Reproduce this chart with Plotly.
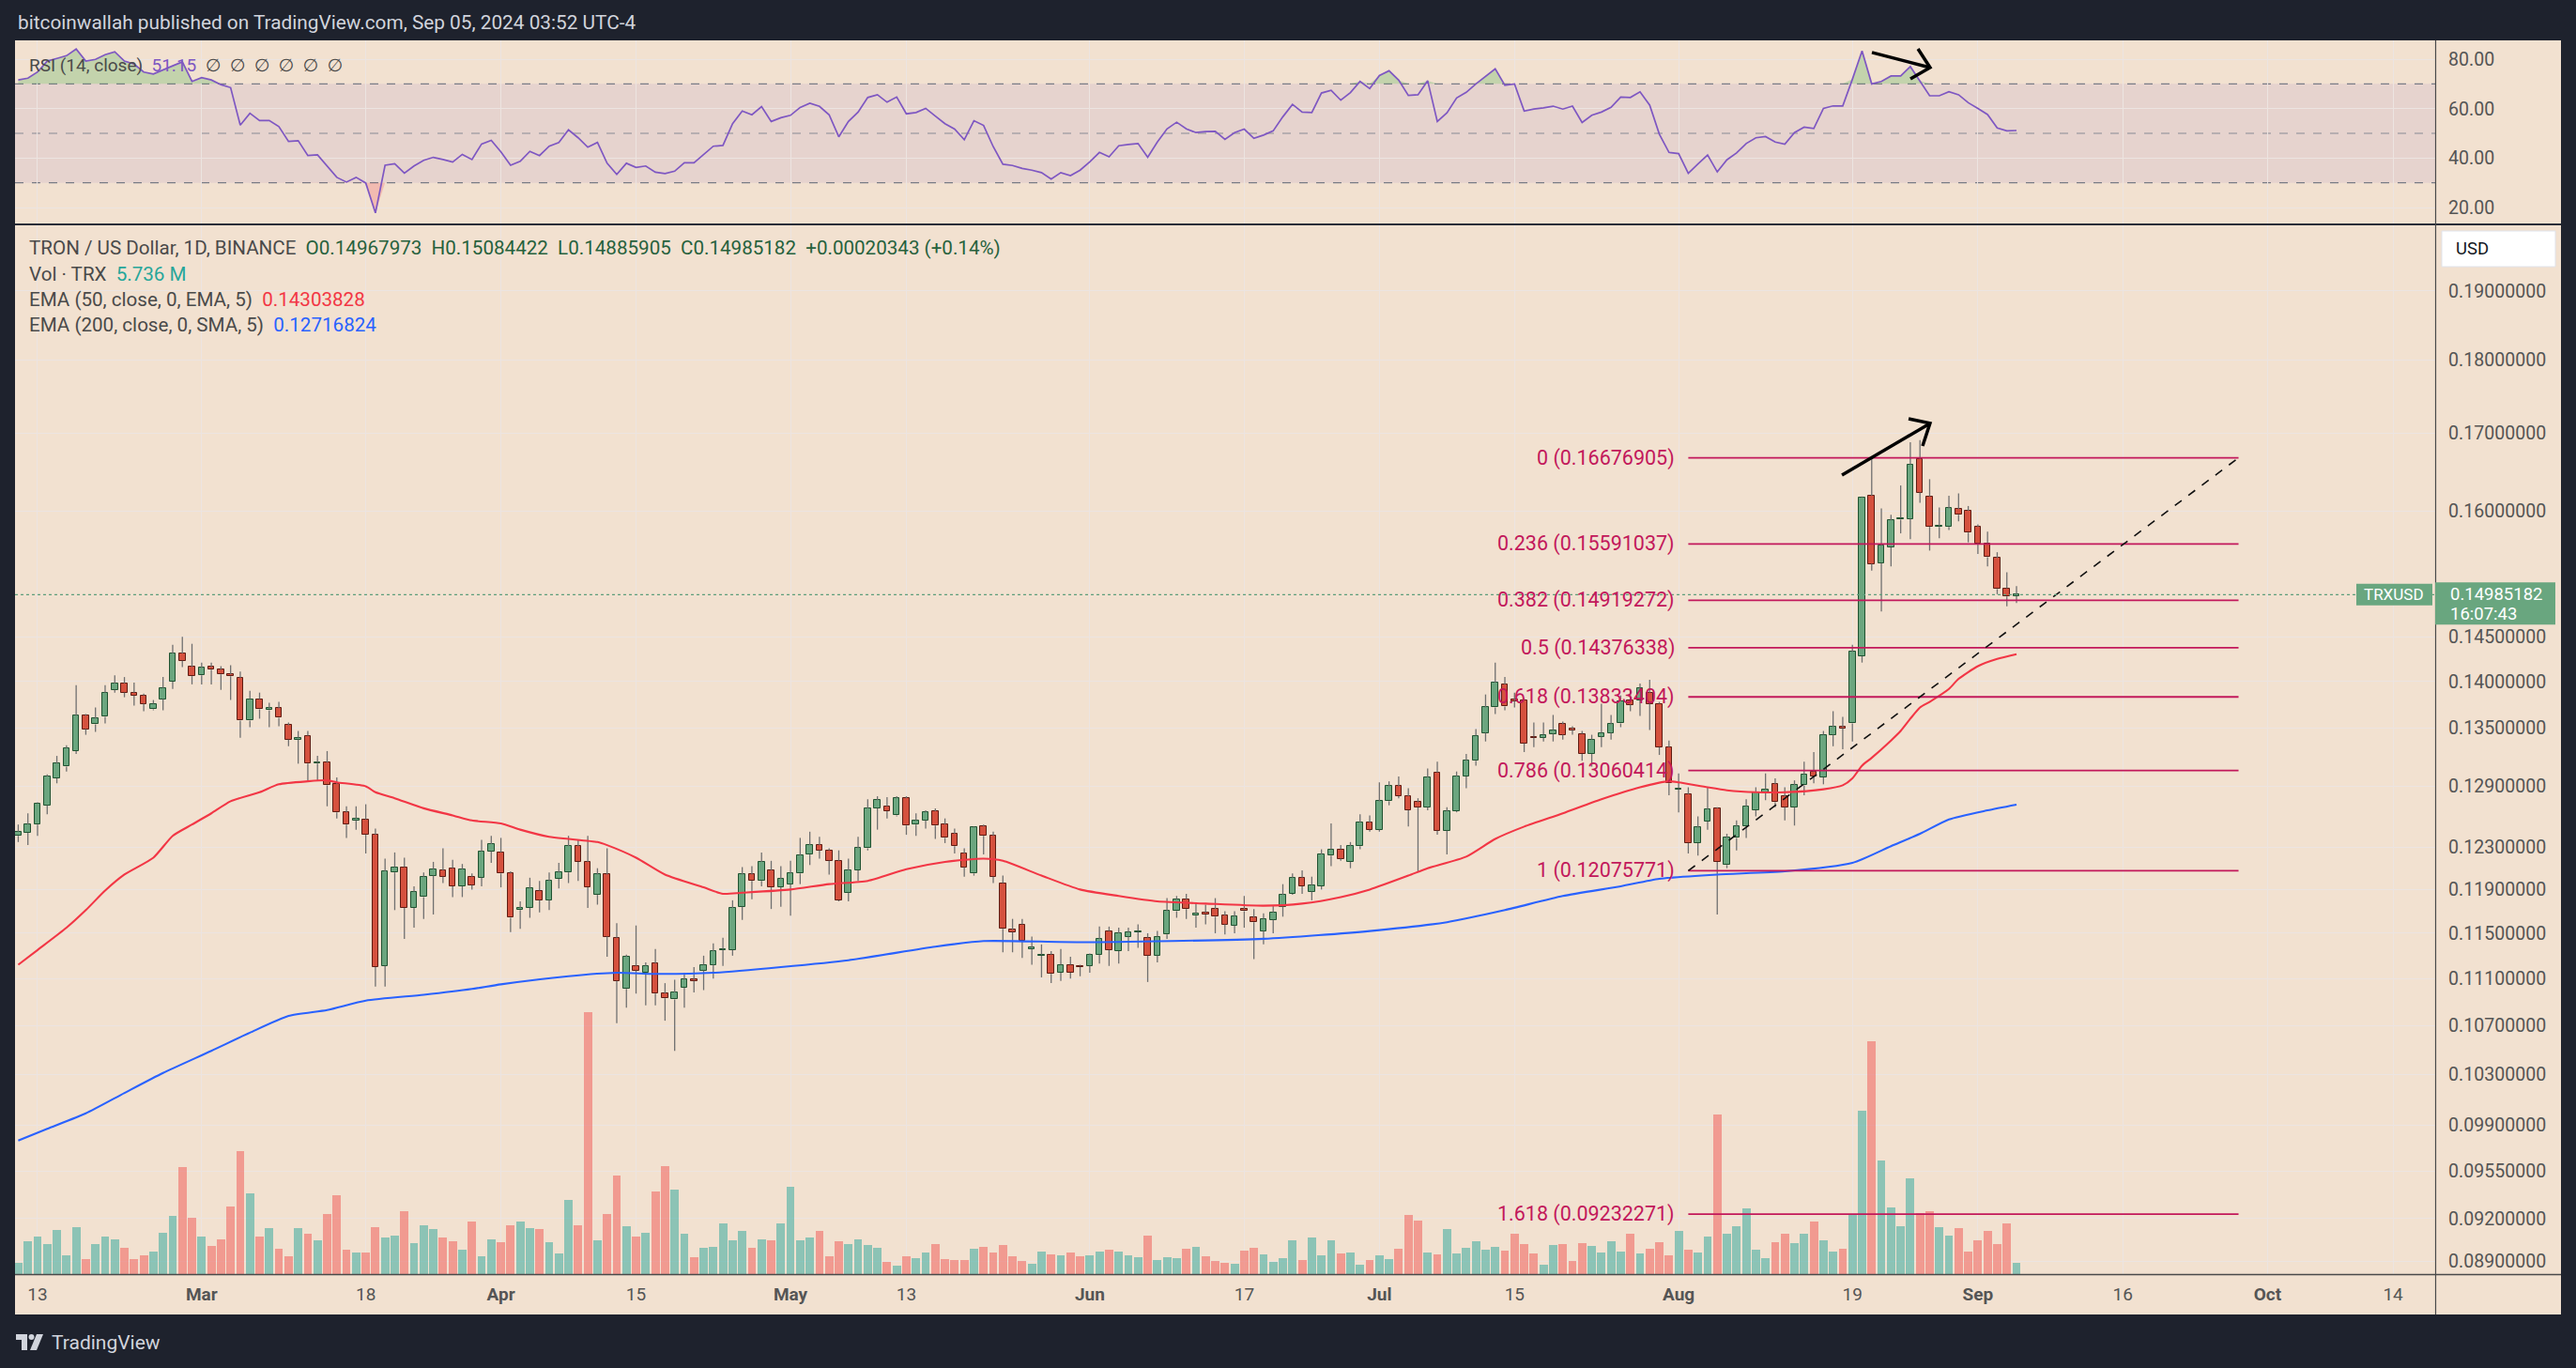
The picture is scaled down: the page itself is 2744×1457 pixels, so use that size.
import math
import pandas as pd
import plotly.graph_objects as go

# TRX/USD 1D (Binance), one candle a day from 11 Feb 2024 to 5 Sep 2024,
# values
first_day = "2024-02-11"

opens = [
    .1241, .1244, .1252, .1271, .1298, .1310, .1326, .1363, .1354, .1362,
    .1391, .1398, .1388, .1385, .1370, .1381, .1400, .1431, .1416, .1407,
    .1416, .1413, .1408, .1404, .1358, .1381, .1369, .1371, .1353, .1338,
    .1342, .1313, .1314, .1292, .1264, .1256, .1257, .1242, .1121, .1206,
    .1211, .1173, .1183, .1203, .1208, .1210, .1193, .1202, .1201, .1226,
    .1225, .1205, .1171, .1173, .1189, .1180, .1200, .1206, .1231, .1216,
    .1185, .1204, .1146, .1101, .1121, .1115, .1123, .1097, .1092, .1102,
    .1109, .1117, .1122, .1135, .1135, .1174, .1204, .1198, .1208, .1192,
    .1195, .1205, .1223, .1232, .1227, .1217, .1187, .1208, .1229, .1268,
    .1270, .1261, .1278, .1252, .1256, .1265, .1252, .1243, .1224, .1205,
    .1250, .1241, .1196, .1153, .1158, .1136, .1130, .1131, .1115, .1122,
    .1121, .1121, .1131, .1152, .1134, .1147, .1151, .1146, .1130, .1149,
    .1170, .1181, .1166, .1169, .1172, .1166, .1157, .1172, .1164, .1152,
    .1162, .1174, .1186, .1201, .1188, .1193, .1222, .1228, .1216, .1231,
    .1254, .1247, .1275, .1290, .1280, .1274, .1269, .1304, .1246, .1265,
    .1300, .1316, .1345, .1372, .1397, .1380, .1380, .1341, .1340, .1344,
    .1354, .1349, .1344, .1323, .1341, .1345, .1355, .1380, .1380, .1388,
    .1376, .1330, .1287, .1282, .1234, .1255, .1268, .1213, .1239, .1250,
    .1266, .1284, .1292, .1280, .1269, .1291, .1305, .1299, .1343, .1351,
    .1355, .1428, .1619, .1536, .1555, .1589, .1590, .1666, .1618, .1580,
    .1580, .1602, .1600, .1580, .1560, .1542, .1506, .14967973,
]
highs = [
    .1252, .1263, .1274, .1302, .1321, .1332, .1396, .1365, .1372, .1396,
    .1407, .1405, .1399, .1387, .1380, .1405, .1441, .1450, .1442, .1421,
    .1421, .1417, .1418, .1411, .1390, .1388, .1377, .1378, .1356, .1347,
    .1347, .1321, .1326, .1299, .1270, .1270, .1272, .1248, .1219, .1225,
    .1220, .1193, .1206, .1216, .1229, .1218, .1214, .1205, .1237, .1241,
    .1239, .1207, .1179, .1201, .1198, .1206, .1215, .1241, .1237, .1241,
    .1210, .1229, .1159, .1131, .1157, .1124, .1136, .1106, .1109, .1115,
    .1120, .1130, .1141, .1146, .1180, .1211, .1212, .1225, .1217, .1212,
    .1217, .1239, .1245, .1240, .1229, .1227, .1219, .1240, .1277, .1280,
    .1279, .1280, .1280, .1263, .1266, .1268, .1258, .1248, .1229, .1250,
    .1252, .1245, .1203, .1163, .1163, .1147, .1140, .1134, .1136, .1129,
    .1122, .1132, .1156, .1156, .1155, .1155, .1158, .1150, .1152, .1182,
    .1184, .1186, .1178, .1176, .1182, .1170, .1170, .1184, .1172, .1168,
    .1175, .1195, .1205, .1208, .1202, .1228, .1253, .1232, .1235, .1262,
    .1261, .1294, .1295, .1300, .1288, .1278, .1308, .1315, .1269, .1305,
    .1323, .1349, .1386, .1421, .1405, .1388, .1382, .1356, .1356, .1364,
    .1357, .1352, .1347, .1343, .1376, .1364, .1385, .1392, .1398, .1402,
    .1378, .1337, .1303, .1289, .1260, .1289, .1269, .1243, .1256, .1277,
    .1289, .1303, .1298, .1289, .1296, .1315, .1325, .1347, .1368, .1362,
    .1441, .1618, .1667, .1603, .1595, .1632, .1688, .1691, .1640, .1604,
    .1619, .1622, .1606, .1583, .1574, .1549, .1525, .15084422,
]
lows = [
    .1235, .1232, .1241, .1262, .1293, .1305, .1323, .1343, .1346, .1355,
    .1388, .1383, .1374, .1368, .1369, .1369, .1392, .1416, .1397, .1397,
    .1397, .1391, .1380, .1340, .1351, .1360, .1351, .1352, .1331, .1313,
    .1296, .1296, .1270, .1258, .1239, .1247, .1224, .1103, .1103, .1171,
    .1145, .1155, .1163, .1167, .1196, .1183, .1183, .1190, .1193, .1215,
    .1192, .1151, .1154, .1164, .1169, .1171, .1191, .1196, .1198, .1173,
    .1176, .1129, .1072, .1085, .1097, .1087, .1087, .1074, .1049, .1085,
    .1098, .1100, .1110, .1121, .1130, .1162, .1181, .1193, .1172, .1174,
    .1166, .1195, .1213, .1219, .1204, .1179, .1179, .1198, .1227, .1247,
    .1258, .1260, .1242, .1241, .1248, .1238, .1234, .1224, .1202, .1203,
    .1223, .1196, .1133, .1133, .1128, .1122, .1111, .1106, .1108, .1110,
    .1112, .1115, .1123, .1121, .1123, .1134, .1137, .1107, .1124, .1145,
    .1164, .1163, .1155, .1158, .1150, .1149, .1150, .1155, .1127, .1140,
    .1150, .1165, .1185, .1186, .1180, .1190, .1212, .1217, .1210, .1228,
    .1245, .1245, .1271, .1278, .1250, .1207, .1266, .1242, .1223, .1264,
    .1288, .1311, .1336, .1365, .1369, .1372, .1325, .1330, .1336, .1336,
    .1338, .1343, .1316, .1310, .1330, .1338, .1351, .1368, .1363, .1348,
    .1322, .1281, .1264, .1224, .1222, .1247, .1167, .1210, .1227, .1239,
    .1260, .1276, .1269, .1256, .1251, .1281, .1293, .1292, .1331, .1328,
    .1336, .1421, .1527, .1479, .1532, .1572, .1565, .1610, .1551, .1566,
    .1576, .1587, .1561, .1547, .1532, .1499, .1485, .14885905,
]
closes = [
    .1245, .1252, .1273, .1300, .1313, .1329, .1363, .1349, .1360, .1388,
    .1398, .1388, .1385, .1376, .1376, .1393, .1431, .1423, .1406, .1415,
    .1413, .1408, .1406, .1358, .1381, .1370, .1371, .1361, .1338, .1340,
    .1313, .1314, .1291, .1264, .1252, .1258, .1242, .1120, .1207, .1211,
    .1173, .1188, .1202, .1209, .1202, .1193, .1209, .1194, .1226, .1233,
    .1205, .1164, .1173, .1191, .1180, .1198, .1206, .1231, .1216, .1192,
    .1204, .1147, .1108, .1129, .1117, .1121, .1097, .1093, .1098, .1109,
    .1108, .1122, .1134, .1136, .1173, .1204, .1198, .1216, .1192, .1200,
    .1205, .1222, .1232, .1227, .1217, .1180, .1208, .1229, .1268, .1276,
    .1265, .1278, .1251, .1256, .1264, .1251, .1239, .1231, .1211, .1249,
    .1241, .1202, .1154, .1151, .1143, .1137, .1131, .1114, .1122, .1115,
    .1120, .1131, .1145, .1135, .1150, .1151, .1152, .1130, .1147, .1170,
    .1181, .1172, .1168, .1167, .1165, .1158, .1165, .1170, .1160, .1163,
    .1169, .1185, .1201, .1193, .1194, .1223, .1228, .1219, .1231, .1254,
    .1247, .1275, .1290, .1280, .1266, .1269, .1299, .1246, .1265, .1300,
    .1316, .1342, .1372, .1399, .1373, .1379, .1334, .1340, .1343, .1348,
    .1343, .1348, .1323, .1338, .1345, .1354, .1379, .1375, .1393, .1376,
    .1330, .1293, .1288, .1234, .1249, .1267, .1216, .1239, .1250, .1270,
    .1284, .1287, .1274, .1269, .1291, .1302, .1300, .1343, .1351, .1350,
    .1433, .1617, .1535, .1557, .1588, .1591, .1659, .1623, .1580, .1581,
    .1603, .1595, .1573, .1560, .1543, .1505, .14964839, .14985182,
]
# volume, millions of TRX
volumes_m = [
    6.1, 17.1, 19.5, 15.6, 22.8, 9.7, 24.4, 7.7, 15.6, 19.5,
    18.2, 13.8, 7.7, 9.7, 11.6, 21.5, 30.3, 55.9, 29.4, 19.5,
    14.6, 18.0, 35.3, 63.8, 42.1, 19.5, 23.9, 13.1, 9.2, 23.9,
    21.0, 17.5, 31.3, 41.2, 12.6, 11.2, 11.2, 24.4, 19.0, 20.0,
    32.8, 16.1, 25.4, 23.5, 19.0, 17.1, 12.6, 27.4, 9.2, 18.0,
    16.6, 25.4, 27.4, 23.9, 23.5, 16.6, 10.7, 38.7, 25.4, 136.4,
    17.5, 31.3, 51.5, 24.9, 19.5, 21.5, 43.1, 56.4, 44.1, 21.0,
    8.7, 13.6, 14.1, 26.4, 17.5, 22.5, 13.6, 18.0, 17.5, 26.4,
    45.6, 17.5, 19.0, 22.5, 9.2, 17.1, 15.6, 18.0, 15.1, 13.6,
    6.2, 4.3, 9.2, 8.2, 11.2, 15.6, 7.7, 7.2, 7.2, 13.1,
    14.1, 11.2, 15.1, 9.2, 6.7, 5.2, 11.6, 10.2, 9.7, 11.2,
    9.2, 9.7, 11.6, 12.6, 11.6, 9.7, 8.7, 20.0, 7.2, 8.7,
    8.2, 13.1, 14.1, 9.2, 6.7, 5.7, 5.2, 12.1, 13.6, 10.2,
    6.2, 8.2, 17.5, 7.2, 19.0, 9.7, 17.5, 10.7, 11.2, 4.8,
    7.2, 9.7, 7.7, 13.1, 30.8, 27.9, 11.2, 10.2, 23.5, 10.7,
    13.6, 17.1, 12.6, 14.1, 12.1, 21.0, 15.6, 10.7, 4.8, 15.1,
    15.6, 6.7, 16.1, 14.6, 11.2, 17.1, 11.6, 21.0, 10.7, 13.1,
    16.6, 9.7, 22.5, 12.6, 11.2, 19.5, 83.0, 21.0, 24.9, 34.3,
    12.6, 8.2, 16.6, 21.0, 16.1, 21.0, 27.4, 17.5, 11.6, 13.1,
    31.3, 85.0, 120.9, 58.9, 34.8, 24.9, 50.0, 31.8, 32.8, 24.4,
    20.0, 23.9, 11.6, 17.5, 22.5, 15.6, 26.4, 5.736,
]
rsi14 = [
    71.6, 72.3, 74.8, 79.2, 80.3, 81.4, 84.1, 79.2, 79.9, 81.8,
    83.0, 79.2, 78.0, 74.8, 74.0, 75.8, 77.3, 78.9, 71.0, 72.5,
    71.6, 69.7, 68.5, 53.3, 58.1, 55.2, 55.2, 52.7, 46.7, 47.0,
    41.0, 41.3, 36.8, 32.2, 30.3, 32.2, 29.9, 17.8, 37.1, 37.7,
    33.9, 36.8, 39.1, 40.3, 39.4, 38.4, 41.5, 39.4, 45.7, 47.2,
    42.5, 37.1, 38.7, 42.7, 41.0, 44.8, 46.3, 51.4, 48.2, 44.4,
    46.3, 37.9, 33.4, 37.9, 36.2, 36.8, 34.3, 33.7, 34.7, 38.1,
    38.1, 41.3, 44.8, 45.1, 53.9, 59.0, 57.5, 60.8, 54.8, 56.3,
    57.3, 60.5, 62.2, 60.9, 57.5, 48.6, 54.8, 58.6, 64.5, 65.6,
    62.6, 64.7, 57.9, 58.4, 60.1, 57.0, 53.9, 51.7, 47.4, 55.1,
    53.2, 44.6, 37.5, 37.0, 35.8, 35.1, 34.1, 31.5, 34.1, 32.9,
    35.1, 38.5, 42.3, 40.5, 45.0, 45.5, 45.9, 40.3, 46.5, 51.8,
    54.5, 51.8, 50.3, 50.7, 50.8, 47.6, 50.3, 51.7, 48.0, 49.3,
    51.0, 56.7, 61.7, 58.6, 58.4, 66.3, 67.4, 63.4, 66.5, 71.0,
    68.1, 73.4, 75.3, 71.5, 65.3, 65.6, 71.3, 54.8, 58.3, 64.3,
    66.6, 70.0, 73.2, 76.1, 69.4, 70.0, 59.0, 59.8, 60.3, 61.0,
    59.8, 61.0, 54.4, 57.3, 58.6, 60.5, 64.7, 64.5, 66.8, 61.4,
    49.7, 42.3, 41.8, 33.8, 37.6, 41.2, 34.4, 39.3, 42.1, 45.9,
    48.2, 48.7, 46.5, 45.6, 50.3, 52.5, 52.0, 60.1, 61.1, 61.1,
    71.9, 83.3, 70.0, 71.0, 73.2, 73.2, 77.0, 71.3, 65.2, 65.2,
    66.8, 65.6, 62.4, 60.1, 57.6, 52.2, 51.0, 51.15,
]

# moving averages, sampled along the drawn lines
ema50_dates = [
    "2024-02-11", "2024-02-13", "2024-02-16", "2024-02-18", "2024-02-20", "2024-02-22",
    "2024-02-25", "2024-02-27", "2024-02-29", "2024-03-02", "2024-03-04", "2024-03-07",
    "2024-03-09", "2024-03-12", "2024-03-14", "2024-03-15", "2024-03-18", "2024-03-19",
    "2024-03-21", "2024-03-24", "2024-03-27", "2024-03-29", "2024-04-01", "2024-04-03",
    "2024-04-06", "2024-04-08", "2024-04-11", "2024-04-12", "2024-04-15", "2024-04-18",
    "2024-04-22", "2024-04-24", "2024-04-26", "2024-05-01", "2024-05-05", "2024-05-09",
    "2024-05-13", "2024-05-17", "2024-05-21", "2024-05-23", "2024-05-27", "2024-05-31",
    "2024-06-04", "2024-06-08", "2024-06-13", "2024-06-19", "2024-06-23", "2024-06-27",
    "2024-06-30", "2024-07-04", "2024-07-06", "2024-07-10", "2024-07-13", "2024-07-16",
    "2024-07-20", "2024-07-24", "2024-07-28", "2024-07-31", "2024-08-01", "2024-08-04",
    "2024-08-06", "2024-08-09", "2024-08-12", "2024-08-16", "2024-08-18", "2024-08-19",
    "2024-08-20", "2024-08-21", "2024-08-23", "2024-08-24", "2024-08-25", "2024-08-26",
    "2024-08-27", "2024-08-29", "2024-08-30", "2024-09-01", "2024-09-03", "2024-09-05",
]
ema50_vals = [
    .1122, .1135, .1155, .1171, .1189, .1204, .1220, .1241, .1252,
    .1263, .1275, .1284, .1292, .1295, .1296, .1294, .1290, .1284, .1278, .1268, .1261, .1256,
    .1253, .1247, .1240, .1238, .1235, .1232, .1220, .1204, .1192, .1186, .1187,
    .1190, .1195, .1198, .1209, .1216, .1219, .1217, .1203, .1190,
    .1184, .1179, .1177, .1175, .1177, .1183, .1190,
    .1203, .1210, .1221, .1238, .1250, .1263, .1277, .1289, .1295,
    .1294, .1289, .1286, .1284, .1284, .1287, .1291, .1298, .1311, .1319, .1337, .1347,
    .1360, .1372, .1378, .1392, .1403,
    .1417, .1425, 0.14303828,
]
ema200_dates = [
    "2024-02-11", "2024-02-14", "2024-02-18", "2024-02-22", "2024-02-26", "2024-03-02",
    "2024-03-06", "2024-03-10", "2024-03-14", "2024-03-18", "2024-03-24", "2024-03-29",
    "2024-04-01", "2024-04-08", "2024-04-13", "2024-04-17", "2024-04-23", "2024-04-30",
    "2024-05-07", "2024-05-16", "2024-05-21", "2024-05-31", "2024-06-19", "2024-06-30",
    "2024-07-08", "2024-07-14", "2024-07-20", "2024-07-26", "2024-07-30", "2024-08-05",
    "2024-08-12", "2024-08-19", "2024-08-23", "2024-08-26", "2024-08-29", "2024-09-02",
    "2024-09-05",
]
ema200_vals = [
    .0978, .0987, .0999, .1015, .1031, .1049, .1064, .1078, .1083, .1091, .1096, .1101,
    .1105, .1112, .1115, .1114, .1115, .1120, .1126, .1138, .1143, .1142, .1145, .1152,
    .1160, .1171, .1184, .1193, .1200, .1204, .1207, .1215, .1231, .1243, .1257, .1266,
    0.12716824,
]

# fib retracement drawing
fib_ratios = ["0", "0.236", "0.382", "0.5", "0.618", "0.786", "1", "1.618"]
fib_prices = [0.16676905, 0.15591037, 0.14919272, 0.14376338,
              0.13833404, 0.13060414, 0.12075771, 0.09232271]
fib_dates = ["2024-08-02", "2024-09-28"]

# hand-drawn arrows
arrow_px_dates = ["2024-08-17 22:00", "2024-08-27 01:00"]
arrow_px_prices = [0.16453, 0.17132]
head_px_dates = ["2024-08-24 19:40", "2024-08-27 01:00", "2024-08-26 06:30"]
head_px_prices = [0.17194, 0.17132, 0.16832]
arrow_rsi_dates = ["2024-08-21 00:30", "2024-08-27 01:10"]
arrow_rsi_vals = [82.7, 76.6]
head_rsi_dates = ["2024-08-25 19:00", "2024-08-27 01:10", "2024-08-25 00:15"]
head_rsi_vals = [84.2, 76.6, 72.0]

price_ticks = [0.19, 0.18, 0.17, 0.16, 0.145, 0.14, 0.135, 0.129, 0.123, 0.119,
               0.115, 0.111, 0.107, 0.103, 0.099, 0.0955, 0.092, 0.089]
rsi_ticks = [20, 40, 60, 80]
time_ticks = ["2024-02-13", "2024-03-01", "2024-03-18", "2024-04-01", "2024-04-15",
              "2024-05-01", "2024-05-13", "2024-06-01", "2024-06-17", "2024-07-01",
              "2024-07-15", "2024-08-01", "2024-08-19", "2024-09-01", "2024-09-16",
              "2024-10-01", "2024-10-14"]
time_labels = ["13", "<b>Mar</b>", "18", "<b>Apr</b>", "15", "<b>May</b>", "13",
               "<b>Jun</b>", "17", "<b>Jul</b>", "15", "<b>Aug</b>", "19", "<b>Sep</b>",
               "16", "<b>Oct</b>", "14"]

# ---------------------------------------------------------------- look
W, H = 2744, 1457
ML, MR, MT, MB = 16, 150, 43, 100
PW, PH = W - ML - MR, H - MT - MB

DARK = "#1E222D"
PEACH = "#F2E1D0"
GRID = "#ECE4E1"
TXT = "#4A4A4A"
AXIS_TXT = "#555555"
UP_FILL, UP_EDGE = "#6BA67F", "#1F5230"
DN_FILL, DN_EDGE = "#D5513E", "#5E1B12"
WICK = "#707070"
VOL_UP, VOL_DN = "rgba(38,166,154,0.5)", "rgba(239,83,80,0.5)"
FIB = "#C2185B"
LAST_GREEN = "#69A67F"
FONT = "Roboto, DejaVu Sans, sans-serif"

X_RANGE = ["2024-02-10 16:00", "2024-10-18 08:53"]
P_RANGE = [math.log10(0.0881), math.log10(0.2000)]
RSI_RANGE = [13.55, 87.6]


def fx(px):
    return (px - ML) / PW


def fy(py):
    return (H - MB - py) / PH


PRICE_TOP = fy(240)


def price_paper(p):
    return (math.log10(p) - P_RANGE[0]) / (P_RANGE[1] - P_RANGE[0]) * PRICE_TOP


dates = pd.date_range(first_day, periods=len(closes), freq="D").strftime("%Y-%m-%d").tolist()
up = [c >= o for o, c in zip(opens, closes)]
day_ms = 86_400_000

fig = go.Figure()

# volume overlay, bottom quarter of the price pane
fig.add_trace(go.Bar(
    x=dates, y=volumes_m, width=0.86 * day_ms, xaxis="x", yaxis="y",
    marker=dict(color=[VOL_UP if u else VOL_DN for u in up], line_width=0),
    hoverinfo="skip"))

# wicks (outside of the bodies)
wx, wy = [], []
for d, o, h, l, c in zip(dates, opens, highs, lows, closes):
    wx += [d, d, None, d, d, None]
    wy += [h, max(o, c), None, min(o, c), l, None]
fig.add_trace(go.Scatter(x=wx, y=wy, mode="lines", xaxis="x", yaxis="y3",
                         line=dict(color=WICK, width=1.3), hoverinfo="skip"))

# bodies
base = [min(o, c) for o, c in zip(opens, closes)]
size = [max(abs(c - o), 0.0008 * min(o, c)) for o, c in zip(opens, closes)]
fig.add_trace(go.Bar(
    x=dates, y=size, base=base, width=0.64 * day_ms, xaxis="x", yaxis="y3",
    marker=dict(color=[UP_FILL if u else DN_FILL for u in up],
                line=dict(color=[UP_EDGE if u else DN_EDGE for u in up], width=1)),
    hoverinfo="skip"))

# moving averages
fig.add_trace(go.Scatter(x=ema200_dates, y=ema200_vals, mode="lines", xaxis="x", yaxis="y3",
                         line=dict(color="#2962FF", width=2.1, shape="spline", smoothing=0.6)))
fig.add_trace(go.Scatter(x=ema50_dates, y=ema50_vals, mode="lines", xaxis="x", yaxis="y3",
                         line=dict(color="#F23645", width=2.1, shape="spline", smoothing=0.6)))

# fib levels
fx_, fy_ = [], []
for p in fib_prices:
    fx_ += [fib_dates[0], fib_dates[1], None]
    fy_ += [p, p, None]
fig.add_trace(go.Scatter(x=fx_, y=fy_, mode="lines", xaxis="x", yaxis="y3",
                         line=dict(color=FIB, width=1.8), hoverinfo="skip"))
fig.add_trace(go.Scatter(x=fib_dates, y=[fib_prices[6], fib_prices[0]], mode="lines",
                         xaxis="x", yaxis="y3",
                         line=dict(color="#111111", width=1.6, dash="dash")))

# arrow on price
fig.add_trace(go.Scatter(x=arrow_px_dates, y=arrow_px_prices, mode="lines", xaxis="x", yaxis="y3",
                         line=dict(color="black", width=3.5)))
fig.add_trace(go.Scatter(x=head_px_dates, y=head_px_prices, mode="lines", xaxis="x", yaxis="y3",
                         line=dict(color="black", width=3.5)))

# RSI pane
n = len(rsi14)
fig.add_trace(go.Scatter(x=dates, y=[70] * n, mode="lines", xaxis="x2", yaxis="y2",
                         line=dict(width=0), hoverinfo="skip"))
fig.add_trace(go.Scatter(x=dates, y=[max(v, 70) for v in rsi14], mode="lines", xaxis="x2",
                         yaxis="y2", line=dict(width=0), fill="tonexty",
                         fillcolor="rgba(76,175,80,0.28)", hoverinfo="skip"))
fig.add_trace(go.Scatter(x=dates, y=[30] * n, mode="lines", xaxis="x2", yaxis="y2",
                         line=dict(width=0), hoverinfo="skip"))
fig.add_trace(go.Scatter(x=dates, y=[min(v, 30) for v in rsi14], mode="lines", xaxis="x2",
                         yaxis="y2", line=dict(width=0), fill="tonexty",
                         fillcolor="rgba(242,54,69,0.22)", hoverinfo="skip"))
fig.add_trace(go.Scatter(x=dates, y=rsi14, mode="lines", xaxis="x2", yaxis="y2",
                         line=dict(color="#7E57C2", width=1.7)))
fig.add_trace(go.Scatter(x=arrow_rsi_dates, y=arrow_rsi_vals, mode="lines", xaxis="x2",
                         yaxis="y2", line=dict(color="black", width=3.5)))
fig.add_trace(go.Scatter(x=head_rsi_dates, y=head_rsi_vals, mode="lines", xaxis="x2",
                         yaxis="y2", line=dict(color="black", width=3.5)))

# ---------------------------------------------------------------- frame, labels
pp = price_paper(closes[-1])
shapes = [
    dict(type="rect", xref="paper", yref="paper", x0=fx(16), x1=fx(2728), y0=fy(1400),
         y1=fy(43), fillcolor=PEACH, line_width=0, layer="below"),
    dict(type="rect", xref="paper", yref="y2", x0=0, x1=1, y0=30, y1=70,
         fillcolor="rgba(126,87,194,0.10)", line_width=0, layer="below"),
    dict(type="line", xref="paper", yref="y2", x0=0, x1=1, y0=70, y1=70, layer="below",
         line=dict(color="#787B86", width=1.3, dash="dash")),
    dict(type="line", xref="paper", yref="y2", x0=0, x1=1, y0=50, y1=50, layer="below",
         line=dict(color="#A8A4A8", width=1.3, dash="dash")),
    dict(type="line", xref="paper", yref="y2", x0=0, x1=1, y0=30, y1=30, layer="below",
         line=dict(color="#787B86", width=1.3, dash="dash")),
    dict(type="line", xref="paper", yref="paper", x0=fx(16), x1=fx(2728), y0=fy(239),
         y1=fy(239), line=dict(color="#2A2E39", width=2)),
    dict(type="line", xref="paper", yref="paper", x0=fx(16), x1=fx(2728), y0=fy(1357.5),
         y1=fy(1357.5), line=dict(color="#4A4A4A", width=1.5)),
    dict(type="line", xref="paper", yref="paper", x0=fx(2594.5), x1=fx(2594.5), y0=fy(1400),
         y1=fy(43), line=dict(color="#4A4A4A", width=1.2)),
    dict(type="rect", xref="paper", yref="paper", x0=fx(2601), x1=fx(2722), y0=fy(284),
         y1=fy(246), fillcolor="white", line=dict(color="#E0E3EB", width=1)),
    dict(type="line", xref="paper", yref="paper", x0=0, x1=1, y0=pp, y1=pp,
         line=dict(color="#5E9E7B", width=1.2, dash="dot")),
    dict(type="rect", xref="paper", yref="paper", x0=fx(2594), x1=fx(2722),
         y0=pp - 32 / PH, y1=pp + 13 / PH, fillcolor=LAST_GREEN, line_width=0),
    dict(type="rect", xref="paper", yref="paper", x0=fx(2510), x1=fx(2591),
         y0=pp - 11.5 / PH, y1=pp + 11.5 / PH, fillcolor=LAST_GREEN, line_width=0),
]


def path(points):
    return "M " + " L ".join(f"{fx(x)},{fy(y)}" for x, y in points) + " Z"


# TradingView logo, bottom left
shapes += [
    dict(type="path", xref="paper", yref="paper", fillcolor="#D1D4DC", line_width=0,
         path=path([(17, 1421), (29, 1421), (29, 1438), (23, 1438), (23, 1427), (17, 1427)])),
    dict(type="circle", xref="paper", yref="paper", fillcolor="#D1D4DC", line_width=0,
         x0=fx(30.5), x1=fx(36.5), y0=fy(1427), y1=fy(1421)),
    dict(type="path", xref="paper", yref="paper", fillcolor="#D1D4DC", line_width=0,
         path=path([(32, 1438), (39, 1421), (46, 1421), (39, 1438)])),
]

o, h, l, c = opens[-1], highs[-1], lows[-1], closes[-1]
chg = closes[-1] - closes[-2]
sp = "\u00a0\u00a0"
OHLC = "#27613D"


def label(px, py, text, size=20.6, color=TXT, anchor="left"):
    return dict(xref="paper", yref="paper", x=fx(px), y=fy(py), xanchor=anchor,
                yanchor="middle", text=text, showarrow=False,
                font=dict(family=FONT, size=size, color=color))


annotations = [
    label(17, 24, "bitcoinwallah published on TradingView.com, Sep 05, 2024 03:52 UTC-4",
          size=20.8, color="#D1D4DC"),
    label(29, 69, f"RSI (14, close){sp}<span style='color:#7E57C2'>{rsi14[-1]:.2f}</span>"
                  f"{sp}\u2205{sp}\u2205{sp}\u2205{sp}\u2205{sp}\u2205{sp}\u2205", size=19),
    label(29, 264, f"TRON / US Dollar, 1D, BINANCE{sp}<span style='color:{OHLC}'>"
                   f"O{o:.8f}{sp}H{h:.8f}{sp}L{l:.8f}{sp}C{c:.8f}{sp}"
                   f"{chg:+.8f} ({chg / closes[-2] * 100:+.2f}%)</span>"),
    label(29, 292, f"Vol \u00b7 TRX{sp}<span style='color:#26A69A'>{volumes_m[-1]:.3f}\u00a0M</span>"),
    label(29, 319, f"EMA (50, close, 0, EMA, 5){sp}<span style='color:#F23645'>{ema50_vals[-1]:.8f}</span>"),
    label(29, 346, f"EMA (200, close, 0, SMA, 5){sp}<span style='color:#2962FF'>{ema200_vals[-1]:.8f}</span>"),
    label(2614, 265, "USD", size=18.5, color="#131722"),
    label(53, 1430, "TradingView", size=21, color="#D1D4DC"),
    dict(xref="paper", yref="paper", x=fx(2608), y=pp, xanchor="left", yanchor="middle",
         text=f"{closes[-1]:.8f}", showarrow=False, font=dict(family=FONT, size=18.5, color="white")),
    dict(xref="paper", yref="paper", x=fx(2608), y=pp, yshift=-21, xanchor="left",
         yanchor="middle", text="16:07:43", showarrow=False,
         font=dict(family=FONT, size=18.5, color="white")),
    dict(xref="paper", yref="paper", x=fx(2550), y=pp, xanchor="center", yanchor="middle",
         text="TRXUSD", showarrow=False, font=dict(family=FONT, size=17, color="white")),
]
for r, p in zip(fib_ratios, fib_prices):
    annotations.append(dict(xref="x", yref="y3", x=fib_dates[0], y=math.log10(p),
                            xanchor="right", yanchor="middle", xshift=-12,
                            text=f"{r} ({p:.8f})", showarrow=False,
                            font=dict(family=FONT, size=21.5, color=FIB)))

fig.update_layout(
    width=W, height=H, autosize=False,
    margin=dict(l=ML, r=MR, t=MT, b=MB),
    paper_bgcolor=DARK, plot_bgcolor="rgba(0,0,0,0)",
    showlegend=False, barmode="overlay", bargap=0,
    font=dict(family=FONT, size=19, color=AXIS_TXT),
    xaxis=dict(type="date", range=X_RANGE, domain=[0, 1], anchor="y",
               tickmode="array", tickvals=time_ticks, ticktext=time_labels, ticks="",
               showgrid=True, gridcolor=GRID, gridwidth=1.3, zeroline=False, showline=False,
               ticklabelstandoff=8, tickfont=dict(size=19, color=AXIS_TXT)),
    xaxis2=dict(type="date", matches="x", anchor="y2", domain=[0, 1],
                tickmode="array", tickvals=time_ticks, showticklabels=False, ticks="",
                showgrid=True, gridcolor=GRID, gridwidth=1.3, zeroline=False),
    yaxis=dict(domain=[0, PRICE_TOP], range=[0, max(volumes_m) * 4], visible=False,
               showgrid=False),
    yaxis3=dict(type="log", overlaying="y", anchor="x", side="right", range=P_RANGE,
                tickmode="array", tickvals=price_ticks,
                ticktext=[f"{v:.8f}" for v in price_ticks], ticks="",
                showgrid=True, gridcolor=GRID, gridwidth=1.3, zeroline=False,
                ticklabelstandoff=13, tickfont=dict(size=19.6, color=AXIS_TXT)),
    yaxis2=dict(domain=[fy(238), 1], anchor="x2", side="right", range=RSI_RANGE,
                tickmode="array", tickvals=rsi_ticks,
                ticktext=[f"{v:.2f}" for v in rsi_ticks], ticks="",
                showgrid=True, gridcolor=GRID, gridwidth=1.3, zeroline=False,
                ticklabelstandoff=13, tickfont=dict(size=19.6, color=AXIS_TXT)),
    shapes=shapes,
    annotations=annotations,
)

# the page's default 8px body margin would push the whole figure off the frame
fig.write_html(
    "out.html",
    config={"displayModeBar": False},
    post_script="document.body.style.margin='0';"
                "document.body.style.background='#1E222D';"
                "document.documentElement.style.overflow='hidden';",
)
